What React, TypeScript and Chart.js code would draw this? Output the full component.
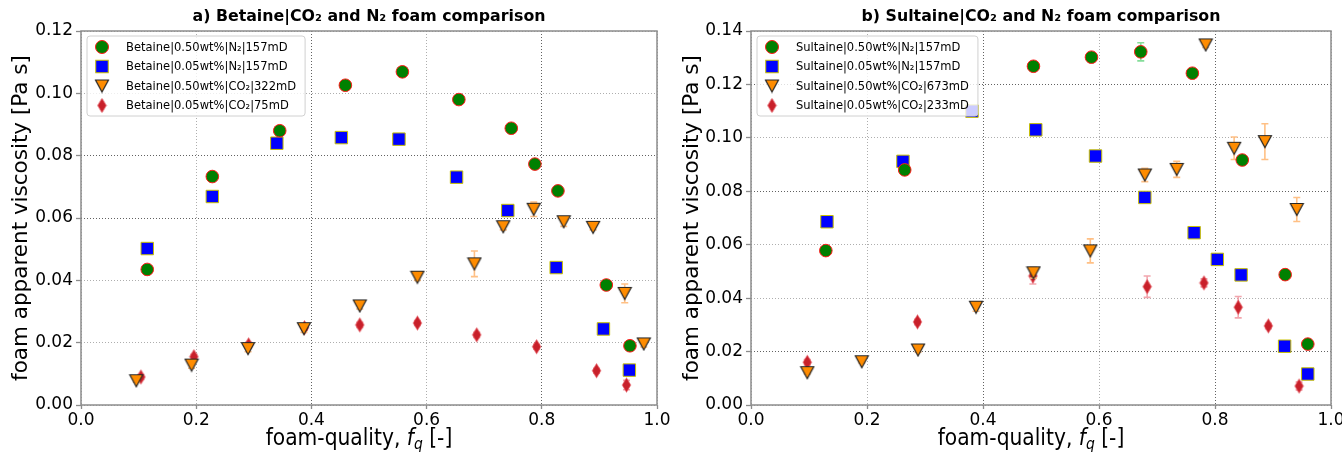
import React, { useEffect, useRef } from "react";
import { Chart, registerables } from "chart.js";

Chart.register(...registerables);

const FONT = "'DejaVu Sans', 'Liberation Sans', sans-serif";

// ---------------- ticks ----------------
const xTicks = [0, 0.2, 0.4, 0.6, 0.8, 1.0];
const xTickLabels = ["0.0", "0.2", "0.4", "0.6", "0.8", "1.0"];
const yTicksA = [0, 0.02, 0.04, 0.06, 0.08, 0.1, 0.12];
const yTickLabelsA = ["0.00", "0.02", "0.04", "0.06", "0.08", "0.10", "0.12"];
const yTicksB = [0, 0.02, 0.04, 0.06, 0.08, 0.1, 0.12, 0.14];
const yTickLabelsB = ["0.00", "0.02", "0.04", "0.06", "0.08", "0.10", "0.12", "0.14"];

// ---------------- panel a: Betaine ----------------
const betN2High_fq = [0.115, 0.228, 0.345, 0.459, 0.558, 0.656, 0.747, 0.788, 0.828, 0.912, 0.953];
const betN2High_mu = [0.0435, 0.0733, 0.088, 0.1026, 0.1069, 0.098, 0.0888, 0.0773, 0.0687, 0.0385, 0.019];
const betN2High_err = [0.0008, 0.0008, 0.0008, 0.0008, 0.0008, 0.0008, 0.0012, 0.0008, 0.0008, 0.0008, 0.0008];

const betN2Low_fq = [0.115, 0.228, 0.34, 0.452, 0.552, 0.652, 0.741, 0.825, 0.907, 0.952];
const betN2Low_mu = [0.0502, 0.0669, 0.084, 0.0858, 0.0853, 0.0731, 0.0624, 0.0441, 0.0244, 0.0112];
const betN2Low_err = [0.0005, 0.0005, 0.0005, 0.0005, 0.0005, 0.0005, 0.0005, 0.0005, 0.0005, 0.0015];

const betCO2High_fq = [0.096, 0.192, 0.29, 0.387, 0.484, 0.584, 0.683, 0.733, 0.786, 0.838, 0.889, 0.944, 0.977];
const betCO2High_mu = [0.0078, 0.0128, 0.0181, 0.0245, 0.0318, 0.041, 0.0453, 0.0572, 0.0628, 0.0588, 0.057, 0.0358, 0.0196];
const betCO2High_err = [0.0005, 0.001, 0.001, 0.0012, 0.001, 0.001, 0.0041, 0.001, 0.0023, 0.0015, 0.0008, 0.003, 0.001];

const betCO2Low_fq = [0.104, 0.196, 0.291, 0.388, 0.484, 0.584, 0.687, 0.791, 0.895, 0.947];
const betCO2Low_mu = [0.009, 0.0155, 0.0193, 0.0248, 0.0257, 0.0263, 0.0225, 0.0187, 0.011, 0.0064];
const betCO2Low_err = [0.0008, 0.0008, 0.0008, 0.0008, 0.0008, 0.0008, 0.0008, 0.0008, 0.0008, 0.0015];

// ---------------- panel b: Sultaine ----------------
const sulN2High_fq = [0.129, 0.265, 0.487, 0.587, 0.672, 0.761, 0.847, 0.921, 0.96];
const sulN2High_mu = [0.0578, 0.088, 0.1268, 0.1302, 0.1322, 0.1242, 0.0917, 0.0488, 0.0228];
const sulN2High_err = [0.001, 0.001, 0.001, 0.001, 0.0034, 0.001, 0.001, 0.001, 0.001];

const sulN2Low_fq = [0.131, 0.262, 0.381, 0.491, 0.594, 0.679, 0.764, 0.804, 0.845, 0.92, 0.96];
const sulN2Low_mu = [0.0686, 0.0912, 0.11, 0.103, 0.0932, 0.0777, 0.0645, 0.0545, 0.0487, 0.022, 0.0116];
const sulN2Low_err = [0.0006, 0.0006, 0.0006, 0.0006, 0.0006, 0.0006, 0.0006, 0.0006, 0.0006, 0.0006, 0.0006];

const sulCO2High_fq = [0.097, 0.191, 0.288, 0.388, 0.487, 0.585, 0.679, 0.734, 0.784, 0.833, 0.886, 0.941];
const sulCO2High_mu = [0.0121, 0.0162, 0.0206, 0.0366, 0.0495, 0.0577, 0.0861, 0.0882, 0.1348, 0.0961, 0.0986, 0.0732];
const sulCO2High_err = [0.0005, 0.0005, 0.0008, 0.0015, 0.002, 0.0045, 0.0025, 0.003, 0.001, 0.0042, 0.0067, 0.0045];

const sulCO2Low_fq = [0.097, 0.287, 0.486, 0.683, 0.781, 0.84, 0.892, 0.945];
const sulCO2Low_mu = [0.016, 0.0311, 0.0483, 0.0443, 0.0457, 0.0366, 0.0296, 0.0071];
const sulCO2Low_err = [0.001, 0.001, 0.003, 0.004, 0.0015, 0.004, 0.001, 0.0015];

// ---------------- styles ----------------
type MarkerKind = "circle" | "square" | "tri" | "diamond";
const STYLE: Record<MarkerKind, { fill: string; edge: string; err: string }> = {
  circle: { fill: "#008000", edge: "#ff1a1a", err: "rgba(110,215,135,0.85)" },
  square: { fill: "#0000ff", edge: "#c8c000", err: "rgba(140,140,255,0.7)" },
  tri: { fill: "#ff8c00", edge: "#262626", err: "rgba(255,185,120,0.9)" },
  diamond: { fill: "#c8202a", edge: "rgba(225,60,70,0.9)", err: "rgba(240,150,160,0.85)" },
};

const DARK_GRID = "rgba(70,70,70,0.85)";
const LIGHT_GRID = "rgba(140,140,140,0.7)";
const FRAME = "#8c8c8c";
const SQUEEZE = 0.9;

function makeTriangle(fill: string, edge: string) {
  const c = document.createElement("canvas");
  c.width = 16;
  c.height = 15;
  const g = c.getContext("2d")!;
  g.beginPath();
  g.moveTo(1.5, 1.5);
  g.lineTo(14.5, 1.5);
  g.lineTo(8, 13.5);
  g.closePath();
  g.fillStyle = fill;
  g.fill();
  g.lineWidth = 1.2;
  g.strokeStyle = edge;
  g.stroke();
  return c;
}

function makeDiamond(fill: string, edge: string) {
  const c = document.createElement("canvas");
  c.width = 11;
  c.height = 17;
  const g = c.getContext("2d")!;
  g.beginPath();
  g.moveTo(5.5, 1.5);
  g.lineTo(9.7, 8.5);
  g.lineTo(5.5, 15.5);
  g.lineTo(1.3, 8.5);
  g.closePath();
  g.fillStyle = fill;
  g.fill();
  g.lineWidth = 0.8;
  g.strokeStyle = edge;
  g.stroke();
  return c;
}

type Series = { label: string; fq: number[]; mu: number[]; err: number[]; marker: MarkerKind };
type PanelDef = {
  title: string;
  series: Series[];
  yTicks: number[];
  yTickLabels: string[];
  yMax: number;
  yAxisWidth: number;
  padRight: number;
  xDark: number[];
  yDark: number[];
};

const panelA: PanelDef = {
  title: "a) Betaine|CO₂ and N₂ foam comparison",
  series: [
    { label: "Betaine|0.50wt%|N₂|157mD", fq: betN2High_fq, mu: betN2High_mu, err: betN2High_err, marker: "circle" },
    { label: "Betaine|0.05wt%|N₂|157mD", fq: betN2Low_fq, mu: betN2Low_mu, err: betN2Low_err, marker: "square" },
    { label: "Betaine|0.50wt%|CO₂|322mD", fq: betCO2High_fq, mu: betCO2High_mu, err: betCO2High_err, marker: "tri" },
    { label: "Betaine|0.05wt%|CO₂|75mD", fq: betCO2Low_fq, mu: betCO2Low_mu, err: betCO2Low_err, marker: "diamond" },
  ],
  yTicks: yTicksA,
  yTickLabels: yTickLabelsA,
  yMax: 0.12,
  yAxisWidth: 81,
  padRight: 14,
  xDark: [0.4, 0.8],
  yDark: [0.06, 0.08],
};

const panelB: PanelDef = {
  title: "b) Sultaine|CO₂ and N₂ foam comparison",
  series: [
    { label: "Sultaine|0.50wt%|N₂|157mD", fq: sulN2High_fq, mu: sulN2High_mu, err: sulN2High_err, marker: "circle" },
    { label: "Sultaine|0.05wt%|N₂|157mD", fq: sulN2Low_fq, mu: sulN2Low_mu, err: sulN2Low_err, marker: "square" },
    { label: "Sultaine|0.50wt%|CO₂|673mD", fq: sulCO2High_fq, mu: sulCO2High_mu, err: sulCO2High_err, marker: "tri" },
    { label: "Sultaine|0.05wt%|CO₂|233mD", fq: sulCO2Low_fq, mu: sulCO2Low_mu, err: sulCO2Low_err, marker: "diamond" },
  ],
  yTicks: yTicksB,
  yTickLabels: yTickLabelsB,
  yMax: 0.14,
  yAxisWidth: 80,
  padRight: 11,
  xDark: [0.4, 0.8],
  yDark: [0.02, 0.08, 0.12],
};

const isIn = (arr: number[], v: number) => arr.some((a) => Math.abs(a - v) < 1e-6);

function drawLegendMarker(ctx: CanvasRenderingContext2D, kind: MarkerKind, x: number, y: number, imgs: Record<string, HTMLCanvasElement>) {
  const s = STYLE[kind];
  ctx.save();
  if (kind === "circle") {
    ctx.beginPath();
    ctx.arc(x, y, 6.5, 0, Math.PI * 2);
    ctx.fillStyle = s.fill;
    ctx.fill();
    ctx.lineWidth = 1;
    ctx.strokeStyle = s.edge;
    ctx.stroke();
  } else if (kind === "square") {
    ctx.fillStyle = s.fill;
    ctx.fillRect(x - 6.25, y - 6.25, 12.5, 12.5);
    ctx.lineWidth = 1;
    ctx.strokeStyle = s.edge;
    ctx.strokeRect(x - 6.25, y - 6.25, 12.5, 12.5);
  } else {
    const im = imgs[kind];
    ctx.drawImage(im, x - im.width / 2, y - im.height / 2);
  }
  ctx.restore();
}

function buildConfig(panel: PanelDef): any {
  const imgs: Record<string, HTMLCanvasElement> = {
    tri: makeTriangle(STYLE.tri.fill, STYLE.tri.edge),
    diamond: makeDiamond(STYLE.diamond.fill, STYLE.diamond.edge),
  };

  const datasets = panel.series.map((s) => {
    const st = STYLE[s.marker];
    const base: any = {
      label: s.label,
      data: s.fq.map((x, i) => ({ x, y: s.mu[i] })),
      errors: s.err,
      errorColor: st.err,
      showLine: false,
      backgroundColor: st.fill,
      borderColor: st.edge,
      borderWidth: 1,
      clip: false,
    };
    if (s.marker === "circle") {
      base.pointStyle = "circle";
      base.pointRadius = 6.3;
    } else if (s.marker === "square") {
      base.pointStyle = "rect";
      base.pointRadius = 8.8;
    } else {
      base.pointStyle = imgs[s.marker];
      base.pointRadius = 6;
    }
    return base;
  });

  const errorBars = {
    id: "errorBars",
    beforeDatasetDraw(chart: any, args: any) {
      const ds = chart.data.datasets[args.index];
      const errs: number[] = ds.errors;
      if (!errs) return;
      const ys = chart.scales.y;
      const ctx = chart.ctx as CanvasRenderingContext2D;
      ctx.save();
      ctx.strokeStyle = ds.errorColor;
      ctx.lineWidth = 1.6;
      args.meta.data.forEach((pt: any, i: number) => {
        const e = errs[i];
        if (!e) return;
        const v = ds.data[i].y;
        const y1 = ys.getPixelForValue(v - e);
        const y2 = ys.getPixelForValue(v + e);
        const x = pt.x;
        ctx.beginPath();
        ctx.moveTo(x, y1);
        ctx.lineTo(x, y2);
        ctx.moveTo(x - 3.5, y1);
        ctx.lineTo(x + 3.5, y1);
        ctx.moveTo(x - 3.5, y2);
        ctx.lineTo(x + 3.5, y2);
        ctx.stroke();
      });
      ctx.restore();
    },
  };

  const squeezedText = (ctx: CanvasRenderingContext2D, t: string, x: number, y: number) => {
    ctx.save();
    ctx.translate(x, y);
    ctx.scale(SQUEEZE, 1);
    ctx.fillText(t, 0, 0);
    ctx.restore();
  };

  const decor = {
    id: "decor",
    afterDraw(chart: any) {
      const ctx = chart.ctx as CanvasRenderingContext2D;
      const a = chart.chartArea;
      const cx = (a.left + a.right) / 2;
      ctx.save();
      // frame
      ctx.strokeStyle = FRAME;
      ctx.lineWidth = 1.5;
      ctx.strokeRect(a.left, a.top, a.right - a.left, a.bottom - a.top);

      // title
      ctx.fillStyle = "#000";
      ctx.font = `bold 15.8px ${FONT}`;
      ctx.textAlign = "center";
      ctx.textBaseline = "alphabetic";
      ctx.fillText(panel.title, cx, 21);

      // y title
      ctx.save();
      ctx.translate(21, (a.top + a.bottom) / 2);
      ctx.rotate(-Math.PI / 2);
      ctx.font = `21.5px ${FONT}`;
      ctx.textAlign = "center";
      ctx.textBaseline = "middle";
      ctx.fillText("foam apparent viscosity [Pa s]", 0, 0);
      ctx.restore();

      // x title with italic f and subscript q
      const parts = [
        { t: "foam-quality, ", f: `22.5px ${FONT}`, dy: 0 },
        { t: "f", f: `italic 22.5px ${FONT}`, dy: 0 },
        { t: "q", f: `italic 15.5px ${FONT}`, dy: 4 },
        { t: " [-]", f: `22.5px ${FONT}`, dy: 0 },
      ];
      let total = 0;
      const widths = parts.map((p) => {
        ctx.font = p.f;
        const w = ctx.measureText(p.t).width * SQUEEZE;
        total += w;
        return w;
      });
      let x = cx - 10 - total / 2;
      ctx.textAlign = "left";
      ctx.textBaseline = "alphabetic";
      parts.forEach((p, i) => {
        ctx.font = p.f;
        squeezedText(ctx, p.t, x, 445 + p.dy);
        x += widths[i];
      });

      // legend
      const rows = [47, 66.5, 86, 105.5];
      const LFONT = `12.8px ${FONT}`;
      ctx.font = LFONT;
      let maxW = 0;
      panel.series.forEach((s) => {
        maxW = Math.max(maxW, ctx.measureText(s.label).width * SQUEEZE);
      });
      const lx = a.left + 6;
      const ly = a.top + 5;
      const tx = a.left + 45;
      const lw = tx + maxW + 9 - lx;
      const lh = 80;
      const r = 3;
      ctx.beginPath();
      ctx.moveTo(lx + r, ly);
      ctx.lineTo(lx + lw - r, ly);
      ctx.arcTo(lx + lw, ly, lx + lw, ly + r, r);
      ctx.lineTo(lx + lw, ly + lh - r);
      ctx.arcTo(lx + lw, ly + lh, lx + lw - r, ly + lh, r);
      ctx.lineTo(lx + r, ly + lh);
      ctx.arcTo(lx, ly + lh, lx, ly + lh - r, r);
      ctx.lineTo(lx, ly + r);
      ctx.arcTo(lx, ly, lx + r, ly, r);
      ctx.closePath();
      ctx.fillStyle = "rgba(255,255,255,0.8)";
      ctx.fill();
      ctx.strokeStyle = "#d0d0d0";
      ctx.lineWidth = 1;
      ctx.stroke();
      panel.series.forEach((s, i) => {
        drawLegendMarker(ctx, s.marker, a.left + 21, rows[i], imgs);
        ctx.fillStyle = "#000";
        ctx.font = LFONT;
        ctx.textAlign = "left";
        ctx.textBaseline = "middle";
        squeezedText(ctx, s.label, tx, rows[i] + 0.5);
      });
      ctx.restore();
    },
  };

  return {
    type: "scatter",
    data: { datasets },
    options: {
      responsive: false,
      maintainAspectRatio: false,
      animation: false,
      devicePixelRatio: 1,
      events: [],
      layout: { padding: { top: 31, right: panel.padRight, left: 0, bottom: 0 } },
      plugins: {
        legend: { display: false },
        tooltip: { enabled: false },
        title: { display: false },
      },
      scales: {
        x: {
          type: "linear",
          min: 0,
          max: 1,
          afterBuildTicks: (s: any) => {
            s.ticks = xTicks.map((v) => ({ value: v }));
          },
          afterFit: (s: any) => {
            s.height = 47;
            s.paddingLeft = 0;
            s.paddingRight = 0;
          },
          ticks: {
            callback: (_v: any, i: number) => xTickLabels[i],
            font: { family: FONT, size: 17 },
            color: "#000",
            padding: 1,
            maxRotation: 0,
            autoSkip: false,
          },
          grid: {
            color: (c: any) => (c.tick && isIn(panel.xDark, c.tick.value) ? DARK_GRID : LIGHT_GRID),
            lineWidth: 1,
            tickColor: FRAME,
            tickLength: 4,
            tickWidth: 1.3,
            tickBorderDash: [],
          },
          border: { display: false, dash: [1, 2] },
        },
        y: {
          type: "linear",
          min: 0,
          max: panel.yMax,
          afterBuildTicks: (s: any) => {
            s.ticks = panel.yTicks.map((v) => ({ value: v }));
          },
          afterFit: (s: any) => {
            s.width = panel.yAxisWidth;
            s.paddingTop = 0;
            s.paddingBottom = 0;
          },
          ticks: {
            callback: (_v: any, i: number) => panel.yTickLabels[i],
            font: { family: FONT, size: 17 },
            color: "#000",
            padding: 3,
            autoSkip: false,
          },
          grid: {
            color: (c: any) => (c.tick && isIn(panel.yDark, c.tick.value) ? DARK_GRID : LIGHT_GRID),
            lineWidth: 1,
            tickColor: FRAME,
            tickLength: 5,
            tickWidth: 1.3,
            tickBorderDash: [],
          },
          border: { display: false, dash: [1, 2] },
        },
      },
    },
    plugins: [errorBars, decor],
  };
}

function Panel({ panel, left, width }: { panel: PanelDef; left: number; width: number }) {
  const ref = useRef<HTMLCanvasElement | null>(null);
  useEffect(() => {
    if (!ref.current) return;
    const chart = new Chart(ref.current, buildConfig(panel));
    return () => chart.destroy();
  }, [panel]);
  return (
    <canvas
      ref={ref}
      width={width}
      height={452}
      style={{ position: "absolute", left, top: 0, width, height: 452 }}
    />
  );
}

export default function App() {
  return (
    <div
      style={{
        position: "fixed",
        left: 0,
        top: 0,
        width: 1342,
        height: 452,
        background: "#fff",
        overflow: "hidden",
      }}
    >
      <Panel panel={panelA} left={0} width={671} />
      <Panel panel={panelB} left={671} width={671} />
    </div>
  );
}
